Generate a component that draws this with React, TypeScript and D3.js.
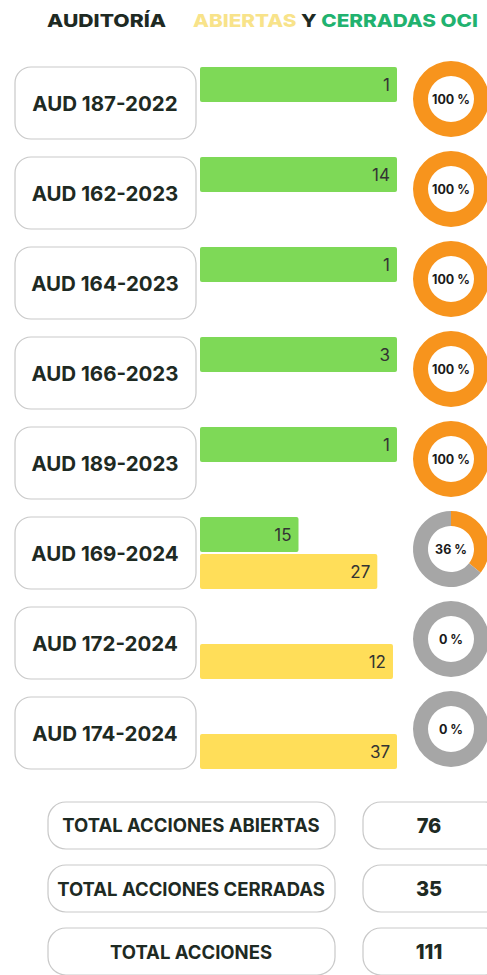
import * as d3 from "d3";

const auditorias = [
  "AUD 187-2022",
  "AUD 162-2023",
  "AUD 164-2023",
  "AUD 166-2023",
  "AUD 189-2023",
  "AUD 169-2024",
  "AUD 172-2024",
  "AUD 174-2024",
];
const cerradas = [1, 14, 1, 3, 1, 15, 0, 0];
const abiertas = [0, 0, 0, 0, 0, 27, 12, 37];
// each row is its own little bar chart with its own axis max
const escalaMax = [1, 14, 1, 3, 1, 30, 12.25, 37];

const totalLabels = ["TOTAL ACCIONES ABIERTAS", "TOTAL ACCIONES CERRADAS", "TOTAL ACCIONES"];

const WIDTH = 487;
const HEIGHT = 975;
const FONT = "Inter, 'Open Sans', sans-serif";
const DARK = "#1e2a23";
const GREEN = "#7ed957";
const YELLOW = "#ffde59";
const ORANGE = "#f7941d";
const GREY = "#a6a6a6";
const BORDER = "#c9c9c9";

export default function App() {
  const y = d3
    .scaleBand<string>()
    .domain(auditorias)
    .range([67, 769])
    .paddingInner(0.2)
    .paddingOuter(0);

  const bh = y.bandwidth();

  const arc = d3
    .arc<d3.PieArcDatum<number>>()
    .innerRadius(23)
    .outerRadius(38);
  const pie = d3.pie<number>().sort(null).value((d) => d);

  const totalAbiertas = d3.sum(abiertas);
  const totalCerradas = d3.sum(cerradas);
  const totales = [totalAbiertas, totalCerradas, totalAbiertas + totalCerradas];

  const yt = d3
    .scaleBand<string>()
    .domain(totalLabels)
    .range([802, 975])
    .paddingInner(0.254)
    .paddingOuter(0);

  return (
    <svg
      width={WIDTH}
      height={HEIGHT}
      style={{ position: "absolute", left: 0, top: 0, background: "#fff", display: "block" }}
      fontFamily={FONT}
    >
      <rect width={WIDTH} height={HEIGHT} fill="#fff" />
      <text x={47} y={27} fontSize={18} fontWeight={800} fill={DARK} textLength={119} lengthAdjust="spacingAndGlyphs">
        AUDITORÍA
      </text>
      <text x={193} y={27} fontSize={18} fontWeight={800} textLength={285} lengthAdjust="spacingAndGlyphs">
        <tspan fill="#f8e38a">ABIERTAS</tspan>
        <tspan fill={DARK}> Y </tspan>
        <tspan fill="#21b26f">CERRADAS OCI</tspan>
      </text>

      {auditorias.map((aud, i) => {
        const top = y(aud)!;
        const x = d3.scaleLinear().domain([0, escalaMax[i]]).range([200, 397]);
        const half = (bh - 2) / 2;
        const total = cerradas[i] + abiertas[i];
        const pct = total ? (cerradas[i] / total) * 100 : 0;
        const arcs = pie([cerradas[i], abiertas[i]]);
        return (
          <g key={aud}>
            <rect x={15} y={top} width={181} height={bh} rx={16} fill="#fff" stroke={BORDER} strokeWidth={1.2} />
            <text x={105} y={top + bh / 2 + 8} textAnchor="middle" fontSize={20.5} fontWeight={700} fill={DARK}>
              {aud}
            </text>
            {cerradas[i] > 0 && (
              <g>
                <rect x={x(0)} y={top} width={x(cerradas[i]) - x(0)} height={half} rx={2} fill={GREEN} />
                <text x={x(cerradas[i]) - 7} y={top + half / 2 + 6} textAnchor="end" fontSize={17} fill="#333">
                  {cerradas[i]}
                </text>
              </g>
            )}
            {abiertas[i] > 0 && (
              <g>
                <rect x={x(0)} y={top + half + 2} width={x(abiertas[i]) - x(0)} height={half} rx={2} fill={YELLOW} />
                <text x={x(abiertas[i]) - 7} y={top + half + 2 + half / 2 + 6} textAnchor="end" fontSize={17} fill="#333">
                  {abiertas[i]}
                </text>
              </g>
            )}
            <g transform={`translate(451,${top + 32})`}>
              {arcs.map((a, j) => (
                <path key={j} d={arc(a) || ""} fill={j === 0 ? ORANGE : GREY} />
              ))}
              <text y={4.5} textAnchor="middle" fontSize={12.5} fontWeight={700} fill="#1a1a1a">
                {`${Math.round(pct)} %`}
              </text>
            </g>
          </g>
        );
      })}

      {totalLabels.map((lab, i) => {
        const top = yt(lab)!;
        const h = yt.bandwidth();
        return (
          <g key={lab}>
            <rect x={48} y={top} width={287} height={h} rx={18} fill="#fff" stroke={BORDER} strokeWidth={1.2} />
            <text x={191} y={top + h / 2 + 7} textAnchor="middle" fontSize={18.5} fontWeight={700} fill={DARK}>
              {lab}
            </text>
            <rect x={363} y={top} width={140} height={h} rx={18} fill="#fff" stroke={BORDER} strokeWidth={1.2} />
            <text x={429} y={top + h / 2 + 7.5} textAnchor="middle" fontSize={20} fontWeight={800} fill={DARK}>
              {totales[i]}
            </text>
          </g>
        );
      })}
    </svg>
  );
}
